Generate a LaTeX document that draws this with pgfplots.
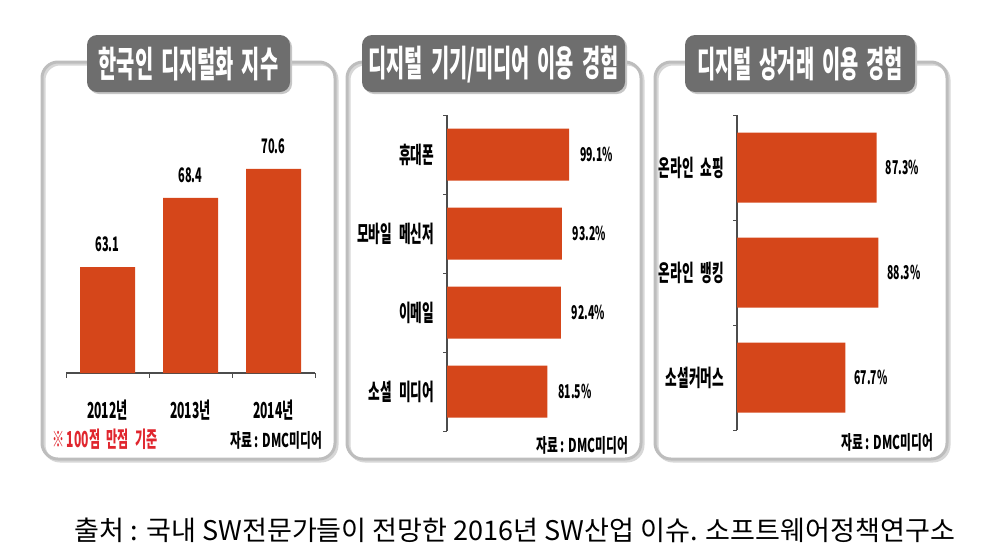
\documentclass[border=0pt]{standalone}
\usepackage{fontspec}
\setmainfont{Noto Sans CJK KR}
\newfontfamily\kc[FakeStretch=0.62]{Noto Sans CJK KR}
\newfontfamily\kn[FakeStretch=0.55]{Noto Sans CJK KR}
\usepackage{pgfplots}
\pgfplotsset{compat=1.18}

\definecolor{barred}{HTML}{D5461A}
\definecolor{boxgray}{HTML}{6E6E6E}
\definecolor{framegray}{HTML}{BDBDBD}
\definecolor{notered}{HTML}{E0262E}

\newcommand{\lbl}{\kn\bfseries\fontsize{11.5}{12}\selectfont}
\newcommand{\val}{\kn\bfseries\fontsize{9.5}{10}\selectfont}
\newcommand{\ttl}{\kn\bfseries\fontsize{18}{21}\selectfont}
\newcommand{\src}{\kc\bfseries\fontsize{9.5}{10}\selectfont}
\newcommand{\ws}{\hspace{0.3em}}
\newcommand{\tws}{\hspace{0.22em}}

\pgfplotsset{
  panel/.style={
    scale only axis,
    /pgf/number format/assume math mode=true,
    axis line style={draw=black!70, line width=0.6pt},
    tick style={draw=black!70, line width=0.5pt},
    major tick length=0pt,
    tick align=outside,
    clip=true,
  }
}

\begin{document}
\begin{tikzpicture}
\begin{scope}[x=0.5pt,y=-0.5pt]
  \useasboundingbox (0,0) rectangle (994,558);
  % panel frames
  \foreach \xa/\xb in {42/335, 347/641, 655/947}{
    \draw[framegray!60, line width=1.5pt, rounded corners=8pt] (\xa+2,64) rectangle (\xb+2,461);
    \draw[framegray, line width=1.5pt, rounded corners=8pt] (\xa,62) rectangle (\xb,459);
  }
  % title boxes
  \foreach \xa/\xb in {87/290, 362/625, 685/915}{
    \fill[gray!45, rounded corners=5pt] (\xa+2,37) rectangle (\xb+2,94);
    \fill[boxgray, rounded corners=5pt] (\xa,35) rectangle (\xb,92);
  }
  \node[text=white, font=\ttl] at (188.5,64) {한국인\tws 디지털화\tws 지수};
  \node[text=white, font=\ttl] at (493.5,64) {디지털\tws 기기/미디어\tws 이용\tws 경험};
  \node[text=white, font=\ttl] at (800,64) {디지털\tws 상거래\tws 이용\tws 경험};

  \coordinate (A1) at (66,373);
  \coordinate (A2) at (447,115);
  \coordinate (A3) at (737,115);

  \node[anchor=west, text=notered, font=\kn\bfseries\fontsize{11}{12}\selectfont] at (45,439) {※ 100점\ws 만점\ws 기준};
  \node[anchor=east, font=\src] at (329,440) {자료 : DMC미디어};
  \node[anchor=east, font=\src] at (635,445) {자료 : DMC미디어};
  \node[anchor=east, font=\src] at (940,442) {자료 : DMC미디어};

  \node at (515,530) {\resizebox{440pt}{!}{\fontsize{12}{14}\selectfont 출처 : 국내 SW전문가들이 전망한 2016년 SW산업 이슈. 소프트웨어정책연구소}};
\end{scope}

% panel 1: digitalization index
\begin{axis}[panel, at={(A1)}, anchor=south west,
  width=124.5pt, height=111.5pt,
  ybar, bar width=27.5pt,
  xmin=-0.5, xmax=2.5, ymin=55, ymax=72.05,
  axis x line*=bottom, axis y line=none,
  xtick={0,1,2}, xticklabels={2012년,2013년,2014년},
  xticklabel style={font=\kn\bfseries\fontsize{11}{12}\selectfont, yshift=-10pt},
  extra x ticks={-0.5,0.5,1.5,2.5}, extra x tick labels={},
  extra x tick style={major tick length=2.5pt},
  nodes near coords={\pgfmathprintnumber[fixed,fixed zerofill,precision=1]{\pgfplotspointmeta}},
  nodes near coords style={font=\kn\bfseries\fontsize{10}{11}\selectfont, yshift=4pt}]
\addplot[fill=barred, draw=none] coordinates {(0,63.1) (1,68.4) (2,70.6)};
\end{axis}

% panel 2: device / media use
\begin{axis}[panel, at={(A2)}, anchor=north west,
  width=73.9pt, height=158pt,
  xbar, bar width=26pt,
  xmin=0, xmax=120, ymin=-0.5, ymax=3.5, y dir=reverse,
  axis y line*=left, axis x line=none,
  ytick={0,1,2,3}, yticklabels={휴대폰,모바일\ws 메신저,이메일,소셜\ws 미디어},
  yticklabel style={font=\lbl, xshift=-3pt},
  extra y ticks={-0.5,0.5,1.5,2.5,3.5}, extra y tick labels={},
  extra y tick style={major tick length=2pt},
  point meta=x,
  nodes near coords={\pgfmathprintnumber[fixed,fixed zerofill,precision=1]{\pgfplotspointmeta}\%},
  nodes near coords style={font=\val, anchor=west, xshift=2pt}]
\addplot[fill=barred, draw=none] coordinates {(99.1,0) (93.2,1) (92.4,2) (81.5,3)};
\end{axis}

% panel 3: digital commerce
\begin{axis}[panel, at={(A3)}, anchor=north west,
  width=96pt, height=157.5pt,
  xbar, bar width=35pt,
  xmin=0, xmax=120, ymin=-0.5, ymax=2.5, y dir=reverse,
  axis y line*=left, axis x line=none,
  ytick={0,1,2}, yticklabels={온라인\ws 쇼핑,온라인\ws 뱅킹,소셜커머스},
  yticklabel style={font=\lbl, xshift=-3pt},
  extra y ticks={-0.5,0.5,1.5,2.5}, extra y tick labels={},
  extra y tick style={major tick length=2pt},
  point meta=x,
  nodes near coords={\pgfmathprintnumber[fixed,fixed zerofill,precision=1]{\pgfplotspointmeta}\%},
  nodes near coords style={font=\val, anchor=west, xshift=1pt}]
\addplot[fill=barred, draw=none] coordinates {(87.3,0) (88.3,1) (67.7,2)};
\end{axis}
\end{tikzpicture}
\end{document}
